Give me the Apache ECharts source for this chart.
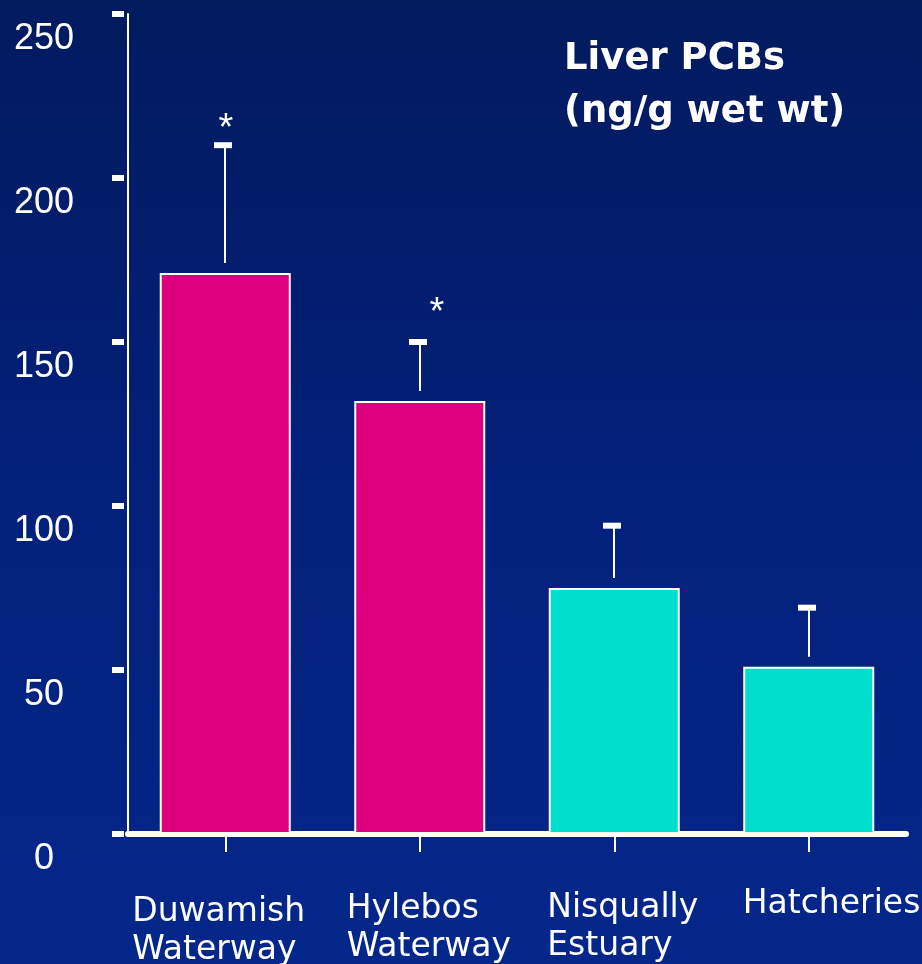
<!DOCTYPE html>
<html>
<head>
<meta charset="utf-8">
<script src="https://cdn.jsdelivr.net/npm/echarts@6/dist/echarts.min.js"></script>
<style>
html,body{margin:0;padding:0;background:#03207a;}
#chart{width:922px;height:964px;}
</style>
</head>
<body>
<div id="chart"></div>
<script>
// ---- data ----
const categories = ['Duwamish\nWaterway', 'Hylebos\nWaterway', 'Nisqually\nEstuary', 'Hatcheries'];
const meanPCB = [171, 132, 75, 51];
const upperSE = [210, 150, 94, 69];
const significant = ['*', '*', '', ''];
const siteType = ['urban', 'urban', 'reference', 'reference'];
const yTickValues = [0, 50, 100, 150, 200, 250];

// ---- styles / layout ----
const typeColors = { urban: '#DC007E', reference: '#00DFCB' };
const labelShift = [[-93, 3], [-73, 0], [-67, -1], [-66, -5]];
const starOffset = [[1, -16], [17, -28], [0, 0], [0, 0]];

const chart = echarts.init(document.getElementById('chart'), null, { renderer: 'canvas' });

const yMin = yTickValues[0], yMax = yTickValues[yTickValues.length - 1];
const yInterval = yTickValues[1] - yTickValues[0];

const xLabelStyle = {
  color: '#ffffff', fontFamily: 'DejaVu Sans', fontSize: 33,
  lineHeight: 38, align: 'left', verticalAlign: 'top'
};

const xData = categories.map((c, i) => ({
  value: c,
  textStyle: Object.assign({}, xLabelStyle, {
    padding: [labelShift[i][1], 0, 0, labelShift[i][0]]
  })
}));

const option = {
  animation: false,
  backgroundColor: {
    type: 'linear', x: 0, y: 0, x2: 0, y2: 1,
    colorStops: [
      { offset: 0, color: '#021a5e' },
      { offset: 0.5, color: '#03207a' },
      { offset: 1, color: '#04278b' }
    ]
  },
  title: {
    text: 'Liver PCBs\n(ng/g wet wt)',
    left: 559, top: 28,
    textStyle: {
      color: '#ffffff', fontFamily: 'DejaVu Sans', fontWeight: 'bold',
      fontSize: 37, lineHeight: 53
    }
  },
  grid: { left: 128, right: 16, top: 14, bottom: 130, containLabel: false, outerBoundsMode: 'none' },
  xAxis: {
    type: 'category',
    data: xData,
    boundaryGap: true,
    axisLine: { show: true, lineStyle: { color: '#ffffff', width: 6 } },
    axisTick: { show: true, alignWithLabel: true, length: 18, lineStyle: { color: '#ffffff', width: 2 } },
    axisLabel: Object.assign({ interval: 0, margin: 56, hideOverlap: false }, xLabelStyle),
    splitLine: { show: false }
  },
  yAxis: [
    {
      type: 'value', min: yMin, max: yMax, interval: yInterval,
      axisLine: { show: true, lineStyle: { color: '#ffffff', width: 2 } },
      axisTick: { show: false },
      axisLabel: {
        color: '#ffffff', fontFamily: 'Liberation Sans', fontSize: 36,
        lineHeight: 50, align: 'center', verticalAlign: 'top', margin: 84
      },
      splitLine: { show: false }
    },
    {
      type: 'value', min: yMin, max: yMax, interval: yInterval,
      position: 'left', offset: 4,
      axisLine: { show: false },
      axisTick: { show: true, length: 12, lineStyle: { color: '#ffffff', width: 6 } },
      axisLabel: { show: false },
      splitLine: { show: false }
    }
  ],
  series: [
    {
      type: 'bar',
      yAxisIndex: 0,
      barWidth: 131,
      data: meanPCB.map((v, i) => ({
        value: v,
        itemStyle: { color: typeColors[siteType[i]] }
      })),
      itemStyle: { borderColor: '#ffffff', borderWidth: 2 },
      z: 2
    },
    {
      type: 'custom',
      yAxisIndex: 0,
      z: 3,
      data: categories.map((c, i) => [i, meanPCB[i], upperSE[i]]),
      renderItem: function (params, api) {
        const i = params.dataIndex;
        const base = api.coord([api.value(0), api.value(1)]);
        const top = api.coord([api.value(0), api.value(2)]);
        const x = Math.round(top[0]);
        const children = [
          {
            type: 'line',
            shape: { x1: x, y1: base[1] - 10, x2: x, y2: top[1] },
            style: { stroke: '#ffffff', lineWidth: 2 }
          },
          {
            type: 'rect',
            shape: { x: x - 11, y: top[1] - 3, width: 18, height: 6 },
            style: { fill: '#ffffff' }
          }
        ];
        if (significant[i]) {
          children.push({
            type: 'text',
            style: {
              text: significant[i],
              x: x + starOffset[i][0], y: top[1] + starOffset[i][1],
              fill: '#ffffff', font: '38px "Liberation Sans"',
              align: 'center', verticalAlign: 'middle'
            }
          });
        }
        return { type: 'group', children: children };
      }
    }
  ]
};

chart.setOption(option);
</script>
</body>
</html>
